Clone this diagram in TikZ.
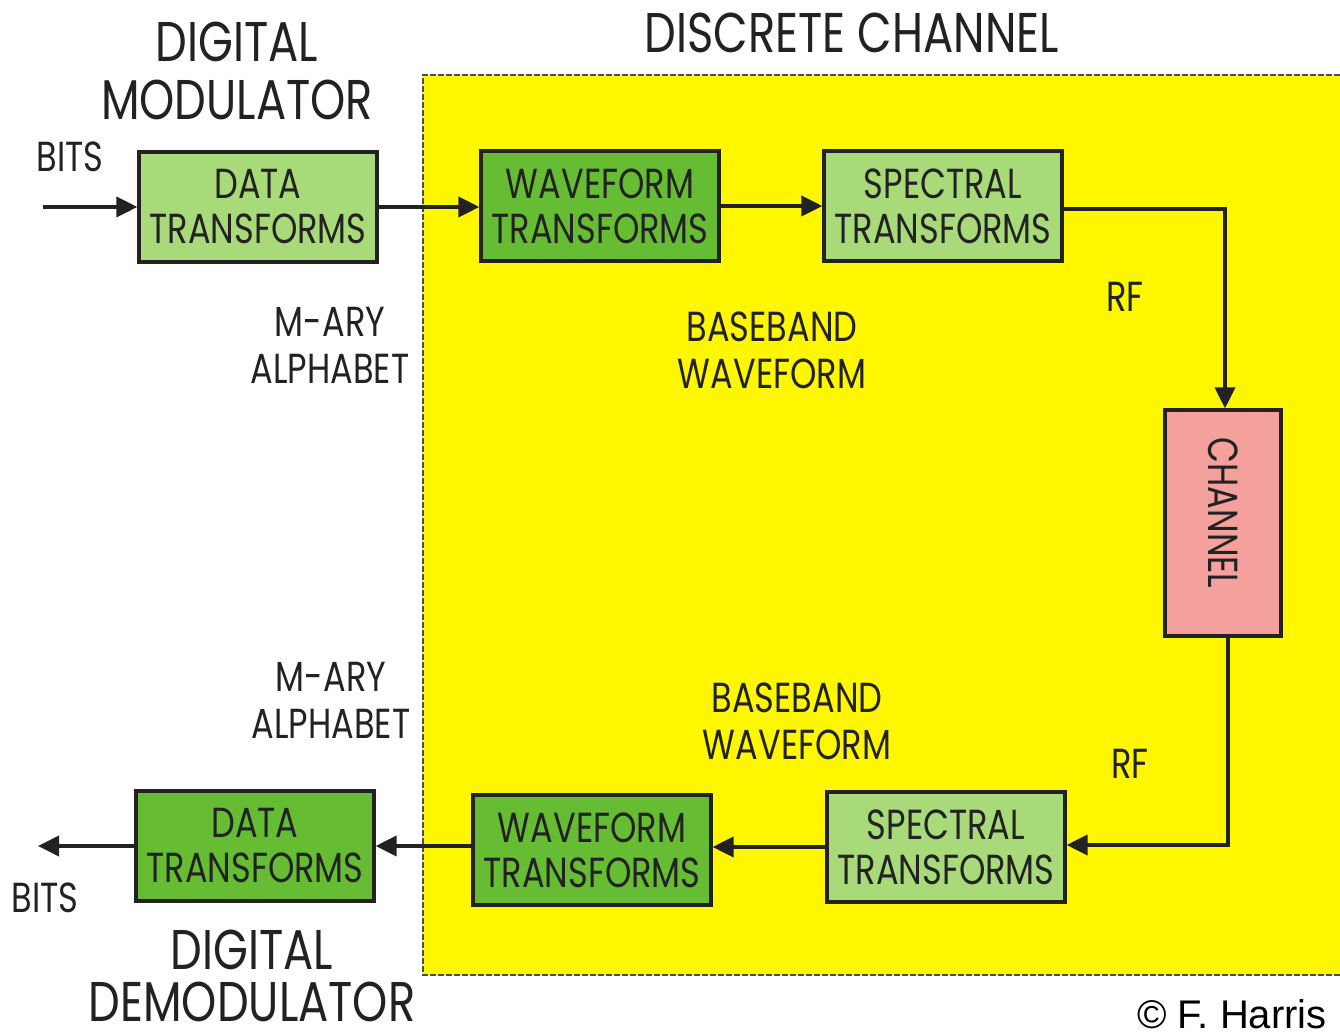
\documentclass[tikz,border=0pt]{standalone}
\usepackage{fontspec}
\setmainfont{Poppins}[FakeStretch=0.8]
\newfontfamily\arialfont{Liberation Sans}
\usetikzlibrary{arrows.meta}
\definecolor{paleg}{HTML}{A8DA7A}
\definecolor{midg}{HTML}{66BD33}
\definecolor{chanpink}{HTML}{F4A09C}
\definecolor{yel}{HTML}{FFF700}
\definecolor{ink}{HTML}{222222}
\tikzset{
  blk/.style={draw=ink, line width=1.6pt, minimum width=119pt, minimum height=55pt,
    inner sep=0pt, align=center, font=\fontsize{21}{22.5}\selectfont, text=ink},
  lightblk/.style={blk, fill=paleg},
  darkblk/.style={blk, fill=midg},
  lbl/.style={font=\fontsize{21}{22.5}\selectfont, text=ink, inner sep=0pt, align=center},
  ttl/.style={font=\fontsize{28}{30}\selectfont, text=ink, inner sep=0pt},
  flow/.style={draw=ink, line width=1.9pt, -{Triangle[length=10.5pt,width=10pt]}},
}
\begin{document}
\begin{tikzpicture}[x=0.5pt, y=-0.5pt]
\useasboundingbox (0,0) rectangle (1340,1036);
% discrete channel region
\fill[yel] (423,75) rectangle (1340,975);
\draw[ink!80, line width=0.6pt, dash pattern=on 3pt off 1pt] (1340,75) -- (423,75) -- (423,975) -- (1340,975);

% titles
\node[ttl] (tdc) at (852,33) {DISCRETE CHANNEL};
\node[ttl] (tmod1) at (237,42) {DIGITAL};
\node[ttl] (tmod2) at (237,100) {MODULATOR};
\node[ttl] (tdem1) at (252,950) {DIGITAL};
\node[ttl] (tdem2) at (252,1002) {DEMODULATOR};

% transmit chain
\node[lightblk] (dtx) at (258,207) {DATA\\TRANSFORMS};
\node[darkblk] (wtx) at (600,206) {WAVEFORM\\TRANSFORMS};
\node[lightblk] (stx) at (943,206) {SPECTRAL\\TRANSFORMS};
\node[blk, fill=chanpink, minimum width=58pt, minimum height=113pt] (ch) at (1223,523) {};
\node[lbl, rotate=-90] (chl) at (1223,513) {CHANNEL};

% receive chain
\node[lightblk] (srx) at (946,847) {SPECTRAL\\TRANSFORMS};
\node[darkblk] (wrx) at (592,850) {WAVEFORM\\TRANSFORMS};
\node[darkblk] (drx) at (255,846) {DATA\\TRANSFORMS};

% free ends
\coordinate (bin) at (43,207);
\coordinate (bout) at (38,846);
\coordinate (c1) at (1225,209);
\coordinate (c2) at (1228,845);

% labels
\node[lbl] (bits1) at (70,157) {BITS};
\node[lbl] (bits2) at (45,898) {BITS};
\node[lbl] (ma1) at (330,345) {M-ARY\\[1pt]ALPHABET};
\node[lbl] (ma2) at (331,700) {M-ARY\\[1pt]ALPHABET};
\node[lbl] (bb1) at (772,350) {BASEBAND\\[1pt]WAVEFORM};
\node[lbl] (bb2) at (797,721) {BASEBAND\\[1pt]WAVEFORM};
\node[lbl] (rf1) at (1125,297) {RF};
\node[lbl] (rf2) at (1130,764) {RF};
\node[font=\arialfont\fontsize{20}{22}\selectfont, text=black, inner sep=0pt] (cr) at (1232,1014) {\textcopyright{} F. Harris};

% connectors
\draw[flow] (bin) -- (dtx.west);
\draw[flow] (dtx.east) -- (wtx.west |- dtx.east);
\draw[flow] (wtx.east) -- (stx.west);
\draw[flow] (stx.east |- c1) -- (c1) -- (c1 |- ch.north);
\draw[flow] (c2 |- ch.south) -- (c2) -- (srx.east |- c2);
\draw[flow] (srx.west) -- (wrx.east |- srx.west);
\draw[flow] (wrx.west |- drx.east) -- (drx.east);
\draw[flow] (drx.west) -- (bout);
\end{tikzpicture}
\end{document}
